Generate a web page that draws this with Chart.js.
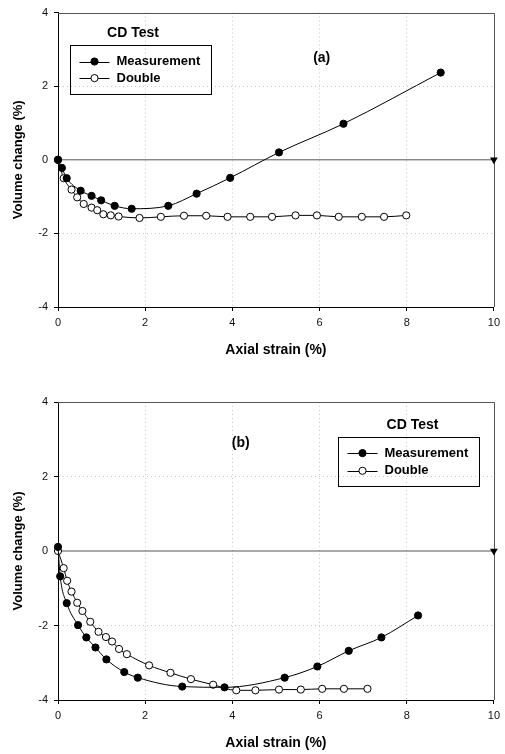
<!DOCTYPE html>
<html><head><meta charset="utf-8">
<script src="https://cdn.jsdelivr.net/npm/chart.js@4"></script>
<style>
html,body{margin:0;padding:0;background:#fff;overflow:hidden;}
#wrapA{position:absolute;left:0;top:0;width:505px;height:377px;}
#wrapB{position:absolute;left:0;top:377px;width:505px;height:377px;}
</style></head><body>
<div id="wrapA"><canvas id="chartA"></canvas></div>
<div id="wrapB"><canvas id="chartB"></canvas></div>
<script>
// ---- data ----
const xTicks = [0, 2, 4, 6, 8, 10];
const yTicks = [-4, -2, 0, 2, 4];
const seriesNames = ['Measurement', 'Double'];
const legendTitle = 'CD Test';
const xTitle = 'Axial strain (%)';
const yTitle = 'Volume change (%)';
const panelTags = ['(a)', '(b)'];

// reference (zero) line
const refX = [0, 10];
const refY = [0, 0];

// panel (a)
const aMeasX = [0, 0.09, 0.2, 0.52, 0.77, 0.99, 1.30, 1.69, 2.53, 3.18, 3.95, 5.07, 6.55, 8.78];
const aMeasY = [0, -0.22, -0.5, -0.84, -0.98, -1.1, -1.25, -1.33, -1.25, -0.92, -0.49, 0.2, 0.98, 2.37];
const aDblX = [0, 0.13, 0.31, 0.44, 0.59, 0.77, 0.9, 1.04, 1.21, 1.39, 1.87, 2.36, 2.89, 3.40, 3.89, 4.41, 4.91, 5.45, 5.94, 6.44, 6.97, 7.48, 7.99];
const aDblY = [0, -0.5, -0.81, -1.02, -1.2, -1.3, -1.37, -1.48, -1.51, -1.54, -1.58, -1.55, -1.52, -1.52, -1.55, -1.55, -1.55, -1.51, -1.51, -1.55, -1.55, -1.55, -1.51];

// panel (b)
const bMeasX = [0, 0.05, 0.2, 0.46, 0.65, 0.86, 1.11, 1.52, 1.83, 2.85, 3.82, 5.20, 5.95, 6.67, 7.42, 8.26];
const bMeasY = [0.11, -0.68, -1.4, -1.99, -2.32, -2.59, -2.91, -3.25, -3.4, -3.64, -3.66, -3.4, -3.1, -2.68, -2.32, -1.73];
const bDblX = [0, 0.13, 0.21, 0.31, 0.44, 0.56, 0.74, 0.93, 1.10, 1.24, 1.40, 1.58, 2.09, 2.58, 3.05, 3.56, 4.09, 4.53, 5.07, 5.57, 6.06, 6.56, 7.10];
const bDblY = [0, -0.46, -0.8, -1.09, -1.39, -1.61, -1.9, -2.17, -2.31, -2.43, -2.63, -2.77, -3.07, -3.27, -3.44, -3.59, -3.74, -3.74, -3.72, -3.72, -3.70, -3.70, -3.70];

// ---- helpers ----
const FONT = '"Liberation Sans", Arial, Helvetica, sans-serif';
const toPts = (xs, ys) => xs.map((x, i) => ({x: x, y: ys[i]}));

const overlay = {
  id: 'overlay',
  beforeDatasetsDraw(chart) {
    const {ctx, chartArea: a} = chart;
    ctx.save();
    ctx.strokeStyle = '#555';
    ctx.lineWidth = 1;
    ctx.beginPath();
    ctx.moveTo(a.left, Math.round(a.top) + 0.5);
    ctx.lineTo(Math.round(a.right) + 0.5, Math.round(a.top) + 0.5);
    ctx.lineTo(Math.round(a.right) + 0.5, a.bottom);
    ctx.stroke();
    ctx.restore();
  },
  afterDraw(chart, args, o) {
    const {ctx, chartArea: a} = chart;
    ctx.save();
    // panel tag
    ctx.fillStyle = '#000';
    ctx.font = 'bold 14px ' + FONT;
    ctx.textAlign = 'center';
    ctx.textBaseline = 'middle';
    ctx.fillText(o.tag, a.left + o.tagDx, a.top + o.tagDy);
    // legend title
    ctx.fillText(o.title, a.left + o.titleDx, a.top + o.titleDy);
    // legend box
    const bx = Math.round(a.left + o.boxDx) + 0.5, by = Math.round(a.top + o.boxDy) + 0.5;
    ctx.strokeStyle = '#000';
    ctx.lineWidth = 1;
    ctx.strokeRect(bx, by, o.boxW, o.boxH);
    ctx.font = 'bold 13px ' + FONT;
    ctx.textAlign = 'left';
    [0, 1].forEach((i) => {
      const ds = chart.data.datasets[i];
      const ry = by + o.rowDy[i];
      ctx.beginPath();
      ctx.moveTo(bx + 9, Math.round(ry) + 0.5);
      ctx.lineTo(bx + 39, Math.round(ry) + 0.5);
      ctx.stroke();
      ctx.beginPath();
      ctx.arc(bx + 24, ry, 3.6, 0, Math.PI * 2);
      ctx.fillStyle = ds.pointBackgroundColor;
      ctx.fill();
      ctx.stroke();
      ctx.fillStyle = '#000';
      ctx.fillText(ds.label, bx + 46, ry);
    });
    ctx.restore();
  }
};

function makeChart(id, measX, measY, dblX, dblY, cfg) {
  const common = {
    borderColor: '#000', borderWidth: 1, pointRadius: 3.6, pointBorderWidth: 1,
    pointBorderColor: '#000', cubicInterpolationMode: 'monotone', clip: false, fill: false
  };
  return new Chart(document.getElementById(id), {
    type: 'line',
    data: {
      datasets: [
        Object.assign({label: seriesNames[0], data: toPts(measX, measY), pointBackgroundColor: '#000', backgroundColor: '#000'}, common),
        Object.assign({label: seriesNames[1], data: toPts(dblX, dblY), pointBackgroundColor: '#fff', backgroundColor: '#fff'}, common),
        {label: 'zero', data: toPts(refX, refY), borderColor: '#555', borderWidth: 1, tension: 0,
         pointRadius: (c) => c.dataIndex === 1 ? 4.5 : 0, pointStyle: 'triangle', rotation: 180,
         pointBackgroundColor: '#000', pointBorderColor: '#000', pointBorderWidth: 0, clip: false}
      ]
    },
    options: {
      responsive: true, maintainAspectRatio: false, animation: false, events: [],
      layout: {padding: {left: 0, right: 10, top: cfg.padTop, bottom: 0}},
      plugins: {legend: {display: false}, tooltip: {enabled: false}, overlay: cfg.overlay},
      scales: {
        x: {
          type: 'linear', min: 0, max: 10,
          afterBuildTicks: (s) => { s.ticks = xTicks.map(v => ({value: v})); },
          afterFit: (s) => { s.height = cfg.xHeight; },
          ticks: {autoSkip: false, maxRotation: 0, padding: 5, color: '#111', font: {family: FONT, size: 11}},
          grid: {color: (c) => (c.tick && c.tick.value > 0 && c.tick.value < 10) ? '#c8c8c8' : 'rgba(0,0,0,0)',
                 tickColor: '#000', tickLength: 4, lineWidth: 1},
          border: {color: '#000', width: 1, dash: [1, 3]},
          title: {display: true, text: xTitle, color: '#000', font: {family: FONT, size: 14, weight: 'bold'},
                  padding: {top: 0, bottom: cfg.xTitlePad}}
        },
        y: {
          type: 'linear', min: -4, max: 4,
          afterBuildTicks: (s) => { s.ticks = yTicks.map(v => ({value: v})); },
          afterFit: (s) => { s.width = 58; },
          ticks: {padding: 6, color: '#111', font: {family: FONT, size: 11}},
          grid: {color: (c) => (c.tick && c.tick.value > -4 && c.tick.value < 4 && c.tick.value !== 0) ? '#c8c8c8' : 'rgba(0,0,0,0)',
                 tickColor: '#000', tickLength: 4, lineWidth: 1},
          border: {color: '#000', width: 1, dash: [1, 3]},
          title: {display: true, text: yTitle, color: '#000', font: {family: FONT, size: 13, weight: 'bold'},
                  padding: {top: 10.5, bottom: 0}}
        }
      }
    },
    plugins: [overlay]
  });
}

makeChart('chartA', aMeasX, aMeasY, aDblX, aDblY, {
  padTop: 9, xHeight: 70, xTitlePad: 18.6,
  overlay: {tag: panelTags[0], tagDx: 263.7, tagDy: 45.3, title: legendTitle, titleDx: 75, titleDy: 20.3,
            boxDx: 11.7, boxDy: 32.7, boxW: 141, boxH: 49, rowDy: [16, 32.6]}
});
makeChart('chartB', bMeasX, bMeasY, bDblX, bDblY, {
  padTop: 25, xHeight: 54, xTitlePad: 2.3,
  overlay: {tag: panelTags[1], tagDx: 182.7, tagDy: 41.3, title: legendTitle, titleDx: 354.5, titleDy: 23,
            boxDx: 280, boxDy: 34.7, boxW: 141, boxH: 49, rowDy: [15.6, 33.3]}
});
</script>
</body></html>
